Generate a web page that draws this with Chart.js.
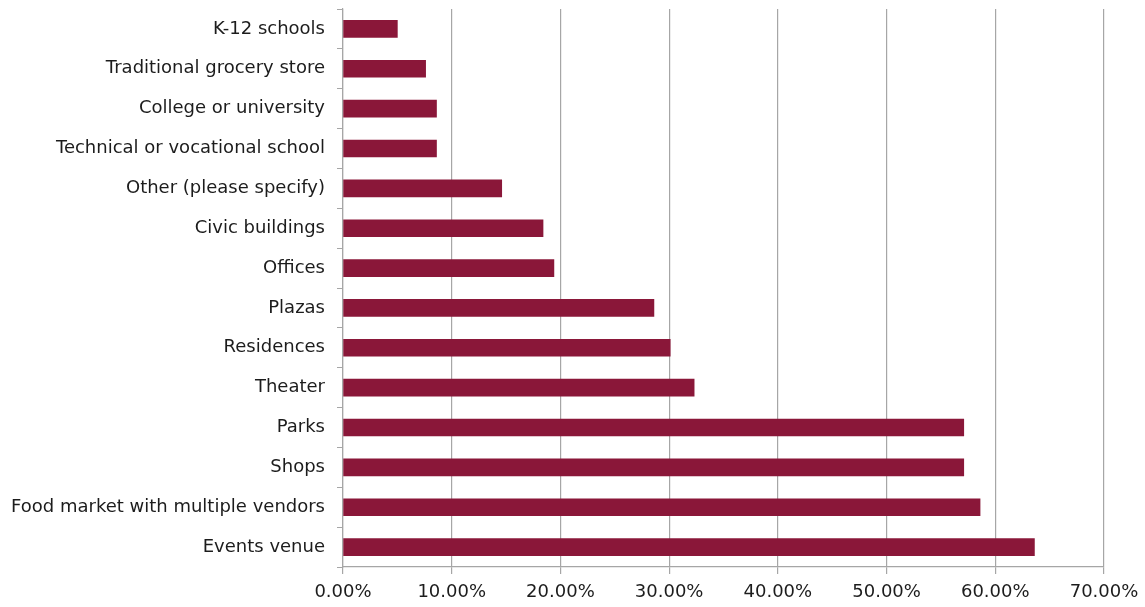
<!DOCTYPE html>
<html>
<head>
<meta charset="utf-8">
<script src="https://cdn.jsdelivr.net/npm/chart.js@4/dist/chart.umd.min.js"></script>
<style>
  html,body{margin:0;padding:0;background:#fff;}
  #wrap{position:relative;width:1145px;height:607px;}
</style>
</head>
<body>
<div id="wrap"><canvas id="chart"></canvas></div>
<script>
const categories = [
    "K-12 schools",
    "Traditional grocery store",
    "College or university",
    "Technical or vocational school",
    "Other (please specify)",
    "Civic buildings",
    "Offices",
    "Plazas",
    "Residences",
    "Theater",
    "Parks",
    "Shops",
    "Food market with multiple vendors",
    "Events venue"
];
const percentages = [5.0, 7.6, 8.6, 8.6, 14.6, 18.4, 19.4, 28.6, 30.1, 32.3, 57.1, 57.1, 58.6, 63.6];
const xTicks = [0, 10, 20, 30, 40, 50, 60, 70];

const gridGray = "#a6a6a6";
const labelFont = {family:"DejaVu Sans, Liberation Sans, sans-serif",size:18};

new Chart(document.getElementById("chart"),{
    type:"bar",
    data:{
        labels:categories,
        datasets:[{
            data:percentages,
            backgroundColor:"#8a1739",
            borderWidth:0,
            barThickness:17
        }]
    },
    options:{
        indexAxis:"y",
        responsive:true,
        maintainAspectRatio:false,
        animation:false,
        layout:{padding:{left:0,right:41,top:9,bottom:0}},
        plugins:{legend:{display:false},tooltip:{enabled:false}},
        scales:{
            x:{
                min:0,
                max:70,
                afterBuildTicks:(s)=>{ s.ticks = xTicks.map(v=>({value:v})); },
                afterFit:(s)=>{ s.height = 40; s.paddingLeft = 0; s.paddingRight = 0; },
                grid:{color:gridGray,lineWidth:1.2,tickLength:7},
                border:{color:gridGray,width:1.2},
                ticks:{
                    color:"#1c1c1c",
                    font:labelFont,
                    padding:8,
                    maxRotation:0,
                    callback:(v)=>v.toFixed(2)+"%"
                }
            },
            y:{
                afterFit:(s)=>{ s.width = 343; s.paddingTop = 0; s.paddingBottom = 0; },
                grid:{display:true,drawOnChartArea:false,offset:true,color:gridGray,tickLength:6},
                border:{color:gridGray,width:1.2},
                ticks:{
                    color:"#1c1c1c",
                    font:labelFont,
                    padding:12
                }
            }
        }
    }
});
</script>
</body>
</html>
